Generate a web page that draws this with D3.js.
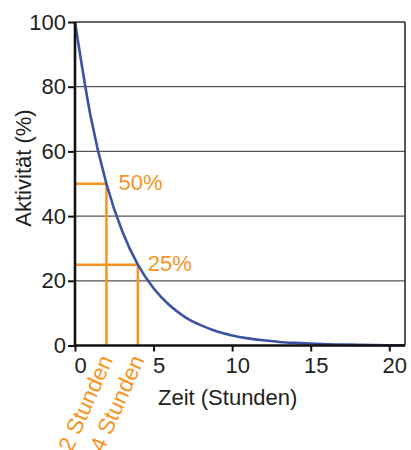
<!DOCTYPE html>
<html>
<head>
<meta charset="utf-8">
<script src="https://cdn.jsdelivr.net/npm/d3@7"></script>
<style>
  body { margin: 0; background: #fff; }
  svg { display: block; }
  text { font-family: "Liberation Sans", Arial, Helvetica, sans-serif; }
</style>
</head>
<body>
<svg id="chart" width="411" height="450"></svg>
<script>
// Data
const hours    = [0, 1, 2, 3, 4, 5, 6, 7, 8, 9, 10, 11, 12, 13, 14, 15, 16, 17, 18, 19, 20, 21];
const activity = [100, 70.7, 50, 35.4, 25, 17.7, 12.5, 8.8, 6.3, 4.4, 3.1, 2.2, 1.6, 1.1, 0.8, 0.6, 0.4, 0.3, 0.2, 0.14, 0.1, 0.07];
const xTicks = [0, 5, 10, 15, 20];
const yTicks = [0, 20, 40, 60, 80, 100];
const markTimes  = [2, 4];
const markValues = [50, 25];
const markPercentLabels = ["50%", "25%"];
const markTimeLabels = ["2 Stunden", "4 Stunden"];
const xTitle = "Zeit (Stunden)";
const yTitle = "Aktivität (%)";

const svg = d3.select("#chart");
const x = d3.scaleLinear().domain([0, 21]).range([75, 405]);
const y = d3.scaleLinear().domain([0, 100]).range([345.5, 22]);
const orange = "#f7941d";
const blue = "#3b53a4";
const ink = "#231f20";

// gridlines
svg.append("g").selectAll("line").data(yTicks.filter(d => d > 0)).join("line")
  .attr("x1", x(0)).attr("x2", x(21))
  .attr("y1", d => y(d)).attr("y2", d => y(d))
  .attr("stroke", d => d === 100 ? "#333" : "#555").attr("stroke-width", 1.3);
// right border
svg.append("line").attr("x1", x(21)).attr("x2", x(21)).attr("y1", y(100)).attr("y2", y(0))
  .attr("stroke", "#222").attr("stroke-width", 1.5);

// orange marker lines
markTimes.forEach((t, i) => {
  const v = markValues[i];
  svg.append("line").attr("x1", x(0)).attr("x2", x(t)).attr("y1", y(v)).attr("y2", y(v))
    .attr("stroke", orange).attr("stroke-width", 2.5);
  svg.append("line").attr("x1", x(t)).attr("x2", x(t)).attr("y1", y(v)).attr("y2", y(0))
    .attr("stroke", orange).attr("stroke-width", 2.5);
});

// curve
const line = d3.line().x((d, i) => x(hours[i])).y(d => y(d)).curve(d3.curveMonotoneX);
svg.append("path").datum(activity).attr("d", line)
  .attr("fill", "none").attr("stroke", blue).attr("stroke-width", 2.6);

// axes
const xAxis = svg.append("g").attr("transform", `translate(0,${y(0)})`)
  .call(d3.axisBottom(x).tickValues(xTicks).tickSize(6).tickPadding(6).tickSizeOuter(0));
const yAxis = svg.append("g").attr("transform", `translate(${x(0)},0)`)
  .call(d3.axisLeft(y).tickValues(yTicks).tickSize(7).tickPadding(2).tickSizeOuter(0));
[xAxis, yAxis].forEach(g => {
  g.select(".domain").attr("stroke", "#111").attr("stroke-width", 2.6);
  g.selectAll(".tick line").attr("stroke", "#111").attr("stroke-width", 2);
  g.selectAll(".tick text").attr("fill", ink).attr("font-size", 22)
    .attr("font-family", "'Liberation Sans', Arial, sans-serif");
});
xAxis.selectAll(".tick text").attr("dx", 5);
xAxis.select(".domain").attr("d", `M${x(0)},0H${x(21)}`);
yAxis.select(".domain").attr("d", `M0,${y(0) + 1}V${y(100)}`);

// percent labels
markTimes.forEach((t, i) => {
  svg.append("text").attr("x", x(t) + (i === 0 ? 12 : 10)).attr("y", y(markValues[i]) + 6)
    .attr("fill", orange).attr("font-size", 22).text(markPercentLabels[i]);
  svg.append("text")
    .attr("transform", `translate(${x(t) + 7},${y(0) + 14}) rotate(-66)`)
    .attr("text-anchor", "end").attr("fill", orange).attr("font-size", 22.5)
    .text(markTimeLabels[i]);
});

// titles
svg.append("text").attr("x", 158).attr("y", 405).attr("fill", ink).attr("font-size", 22).text(xTitle);
svg.append("text").attr("transform", "translate(31,168) rotate(-90)")
  .attr("text-anchor", "middle").attr("fill", ink).attr("font-size", 22).text(yTitle);
</script>
</body>
</html>
